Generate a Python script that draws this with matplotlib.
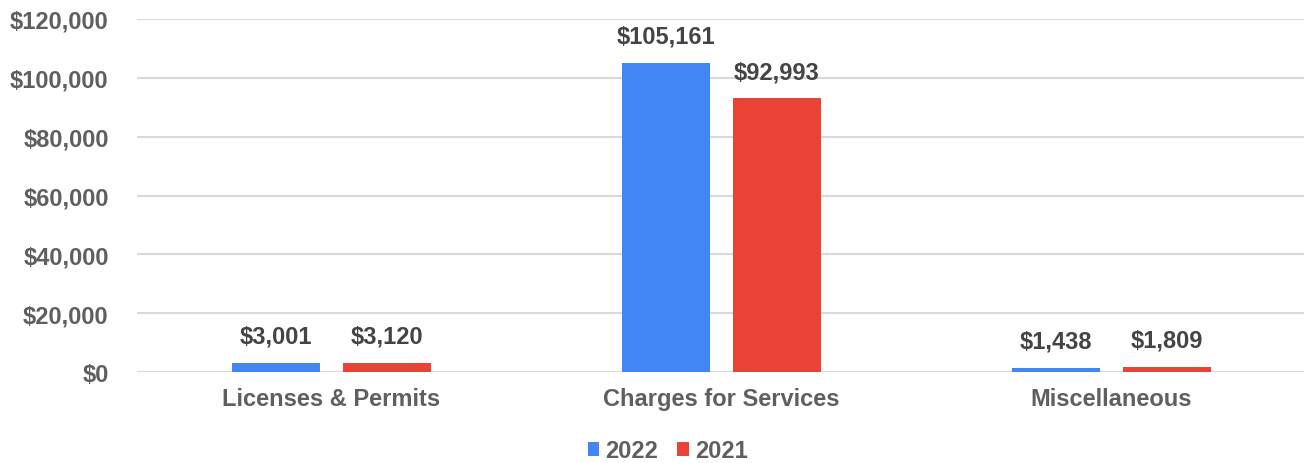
import numpy as np
import matplotlib.pyplot as plt
from matplotlib.ticker import FuncFormatter

categories = ["Licenses & Permits", "Charges for Services", "Miscellaneous"]
values_2022 = [3001, 105161, 1438]
values_2021 = [3120, 92993, 1809]
series_names = ["2022", "2021"]
colors = ["#4285F4", "#EA4335"]

plt.rcParams['font.family'] = ['Liberation Sans', 'DejaVu Sans']
plt.rcParams['font.weight'] = 'bold'

fig = plt.figure(figsize=(13.04, 4.64), dpi=100)
ax = fig.add_axes([136.5 / 1304, 0.196, 1170 / 1304, 0.761])

x = np.arange(len(categories))
w = 0.2256
off = 0.1423
for vals, name, c, sgn in zip([values_2022, values_2021], series_names, colors, [-1, 1]):
    bars = ax.bar(x + sgn * off, vals, w, color=c, label=name, zorder=3)
    for b, v in zip(bars, vals):
        ax.annotate(f"${v:,}", (b.get_x() + b.get_width() / 2, v),
                    xytext=(0, 11), textcoords="offset points",
                    ha="center", va="bottom", fontsize=17, fontweight="bold",
                    color="#444444")

ax.set_xlim(-0.5, 2.5)
ax.set_ylim(0, 120000)
ax.set_yticks(np.arange(0, 120001, 20000))
ax.yaxis.set_major_formatter(FuncFormatter(lambda v, p: f"${v:,.0f}"))
ax.set_xticks(x)
ax.set_xticklabels(categories)
ax.tick_params(axis="both", length=0, labelsize=17, labelcolor="#5f5f5f")
ax.tick_params(axis="y", pad=20)
ax.tick_params(axis="x", pad=11)
for lbl in ax.get_xticklabels() + ax.get_yticklabels():
    lbl.set_fontweight("bold")

ax.grid(axis="y", color="#d9d9d9", linewidth=1.5, zorder=0)
for s in ax.spines.values():
    s.set_visible(False)

leg = fig.legend(loc="center", bbox_to_anchor=(0.512, 0.026), ncol=2, frameon=False,
                 fontsize=17, handlelength=0.5, handleheight=0.5,
                 handletextpad=0.25, columnspacing=0.8)
for t in leg.get_texts():
    t.set_color("#5f5f5f")
    t.set_fontweight("bold")

fig.savefig("out.png", dpi=100)
